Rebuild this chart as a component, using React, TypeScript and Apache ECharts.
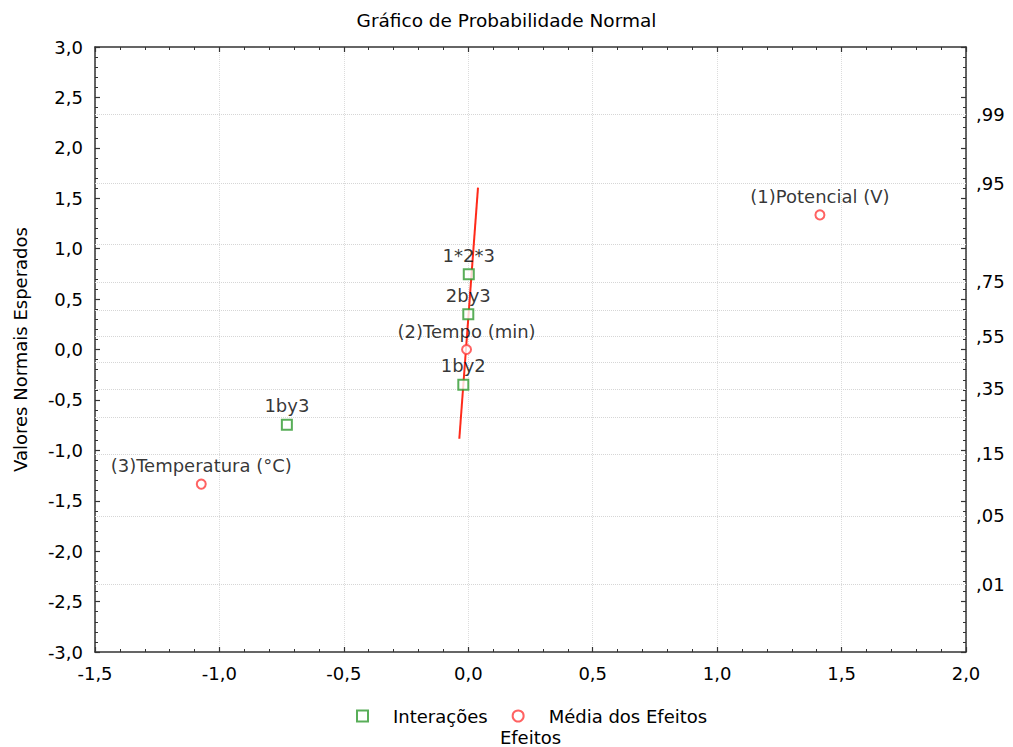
import React, { useEffect, useRef } from "react";
import * as echarts from "echarts";

const titleText = "Gráfico de Probabilidade Normal";
const xAxisName = "Efeitos";
const yAxisName = "Valores Normais Esperados";

const interactionNames = ["1by3", "1by2", "2by3", "1*2*3"];
const interactionX = [-0.729, -0.02, 0.0, 0.002];
const interactionY = [-0.747, -0.349, 0.349, 0.747];

const mainNames = ["(3)Temperatura (°C)", "(2)Tempo (min)", "(1)Potencial (V)"];
const mainX = [-1.073, -0.007, 1.413];
const mainY = [-1.335, 0.0, 1.335];

const fitLineX = [-0.036, 0.039];
const fitLineY = [-0.885, 1.605];

const probLabels = [",01", ",05", ",15", ",25", ",35", ",45", ",55", ",65", ",75", ",85", ",95", ",99"];
const probZ = [-2.326, -1.645, -1.036, -0.674, -0.385, -0.126, 0.126, 0.385, 0.674, 1.036, 1.645, 2.326];
const shownProbLabels = [",01", ",05", ",15", ",35", ",55", ",75", ",95", ",99"];

const FONT = "DejaVu Sans";
const fmt = (v: number) => v.toFixed(1).replace(".", ",");

export default function App() {
  const ref = useRef<HTMLDivElement>(null);
  useEffect(() => {
    if (!ref.current) return;
    const chart = echarts.init(ref.current, undefined, { renderer: "svg" });
    const shownZ = probZ.filter((_, i) => shownProbLabels.includes(probLabels[i]));
    const axisLine = { show: true, onZero: false, lineStyle: { color: "#333", width: 1.5 } };
    const tick = { show: true, inside: true, length: 5, lineStyle: { color: "#333", width: 1.2 } };
    const minor = { show: true, splitNumber: 5, length: 3, lineStyle: { color: "#333", width: 1 } };
    const labelStyle = { color: "#000", fontSize: 18, fontFamily: FONT };
    const pointLabel = {
      show: true,
      position: "top",
      distance: 4,
      formatter: (p: any) => p.name,
      color: "#000",
      fontSize: 18,
      fontFamily: FONT,
    };
    chart.setOption({
      animation: false,
      backgroundColor: "#fff",
      textStyle: { fontFamily: FONT },
      title: {
        text: titleText,
        left: "center",
        top: 6,
        textStyle: { fontSize: 18.5, fontWeight: "normal", color: "#000", fontFamily: FONT },
      },
      grid: { left: 95, right: 47, top: 47, bottom: 95, containLabel: false, outerBoundsMode: "none" },
      legend: {
        data: ["Interações", "Média dos Efeitos"],
        top: 702,
        left: 351,
        itemWidth: 11,
        itemHeight: 11,
        itemGap: 24,
        textStyle: { fontSize: 18, color: "#000", fontFamily: FONT, padding: [0, 0, 0, 20] },
      },
      xAxis: [
        {
          type: "value",
          position: "bottom",
          min: -1.5,
          max: 2.0,
          interval: 0.5,
          name: xAxisName,
          nameLocation: "middle",
          nameGap: 76,
          nameTextStyle: { fontSize: 18, color: "#000", fontFamily: FONT },
          axisLine,
          axisTick: tick,
          minorTick: minor,
          axisLabel: { ...labelStyle, margin: 12, formatter: (v: number) => fmt(v) },
          splitLine: { show: true, lineStyle: { color: "#dcdcdc", type: "dotted", width: 1 } },
        },
        {
          type: "value",
          position: "top",
          min: -1.5,
          max: 2.0,
          interval: 0.5,
          axisLine,
          axisTick: tick,
          minorTick: minor,
          axisLabel: { show: false },
          splitLine: { show: false },
        },
      ],
      yAxis: [
        {
          type: "value",
          position: "left",
          min: -3,
          max: 3,
          interval: 0.5,
          name: yAxisName,
          nameLocation: "middle",
          nameGap: 66,
          nameTextStyle: { fontSize: 18, color: "#000", fontFamily: FONT },
          axisLine,
          axisTick: tick,
          minorTick: minor,
          axisLabel: { ...labelStyle, margin: 12, formatter: (v: number) => fmt(v) },
          splitLine: { show: false },
        },
        {
          type: "value",
          position: "right",
          min: -3,
          max: 3,
          interval: 0.5,
          axisLine,
          axisTick: tick,
          minorTick: minor,
          axisLabel: {
            ...labelStyle,
            margin: 10,
            customValues: shownZ,
            formatter: (v: number) => {
              let best = -1;
              probZ.forEach((z, i) => {
                if (Math.abs(z - v) < 0.01) best = i;
              });
              return best >= 0 && shownProbLabels.includes(probLabels[best]) ? probLabels[best] : "";
            },
          },
          splitLine: { show: false },
        },
      ],
      series: [
        {
          name: "fit",
          type: "line",
          data: fitLineX.map((x, i) => [x, fitLineY[i]]),
          showSymbol: false,
          symbol: "none",
          lineStyle: { color: "#ff2a1a", width: 2 },
          silent: true,
          z: 3,
          markLine: {
            silent: true,
            symbol: "none",
            label: { show: false },
            lineStyle: { color: "#d6d6d6", type: "dotted", width: 1 },
            data: probZ.map((z) => ({ yAxis: z })),
            z: 1,
          },
        },
        {
          name: "Interações",
          type: "scatter",
          symbol: "emptyRect",
          symbolSize: 10,
          itemStyle: { color: "#2f9a2f", borderWidth: 1.3 },
          data: interactionX.map((x, i) => ({ value: [x, interactionY[i]], name: interactionNames[i] })),
          label: pointLabel,
          z: 4,
        },
        {
          name: "Média dos Efeitos",
          type: "scatter",
          symbol: "emptyCircle",
          symbolSize: 9,
          itemStyle: { color: "#ff3b3b", borderWidth: 1.3 },
          data: mainX.map((x, i) => ({ value: [x, mainY[i]], name: mainNames[i] })),
          label: pointLabel,
          z: 4,
        },
      ],
    });
    return () => chart.dispose();
  }, []);
  return <div ref={ref} style={{ position: "fixed", left: 0, top: 0, width: 1013, height: 747 }} />;
}
